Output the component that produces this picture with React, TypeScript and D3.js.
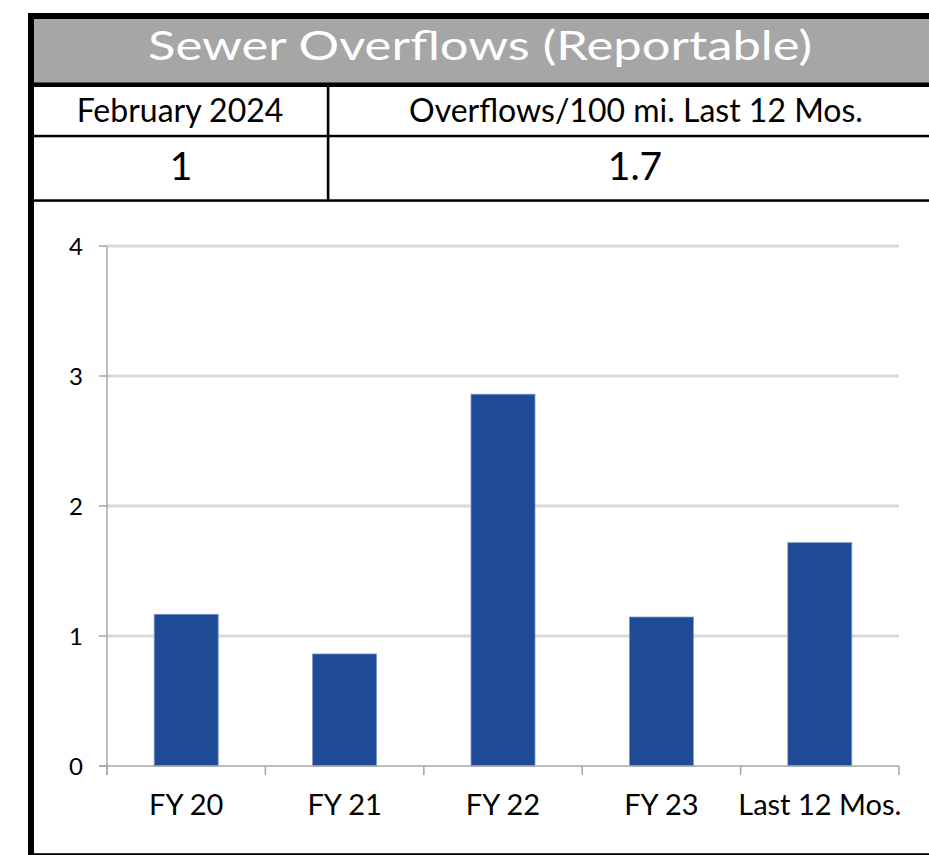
import React from "react";
import * as d3 from "d3";

const categories = ["FY 20", "FY 21", "FY 22", "FY 23", "Last 12 Mos."];
const values = [1.167, 0.862, 2.86, 1.146, 1.718];
const yTicks = [0, 1, 2, 3, 4];
const titleText = "Sewer Overflows (Reportable)";
const headerLabels = ["February 2024", "Overflows/100 mi. Last 12 Mos."];
const headerValues = ["1", "1.7"];

const W = 929;
const H = 855;
const FONT = "Lato, 'Open Sans', sans-serif";

export default function App() {
  const plot = { left: 107, right: 899, top: 246, bottom: 766 };
  const x = d3
    .scaleBand<string>()
    .domain(categories)
    .range([plot.left, plot.right])
    .paddingInner(0.596)
    .paddingOuter(0.298);
  const xOuter = d3.scaleBand<string>().domain(categories).range([plot.left, plot.right]);
  const y = d3.scaleLinear().domain([0, 4]).range([plot.bottom, plot.top]);

  const boundaries = categories.map((c) => xOuter(c) as number).concat([plot.right]);

  return (
    <svg
      width={W}
      height={H}
      style={{ position: "absolute", left: 0, top: 0, background: "#fff" }}
      fontFamily={FONT}
    >
      {/* title bar */}
      <rect x={34} y={19} width={W - 34} height={64} fill="#a6a6a6" />
      <rect x={28} y={13} width={W - 28} height={6} fill="#000" />
      <rect x={28} y={13} width={6} height={842} fill="#000" />
      <rect x={34} y={82.5} width={W - 34} height={4.5} fill="#000" />
      <rect x={34} y={134.8} width={W - 34} height={2.5} fill="#000" />
      <rect x={34} y={199.3} width={W - 34} height={2.5} fill="#000" />
      <rect x={326.8} y={87} width={2.6} height={113} fill="#000" />
      <rect x={34} y={853.2} width={W - 34} height={2} fill="#000" />

      <text
        x={480}
        y={60}
        textAnchor="middle"
        fill="#fff"
        fontSize={40}
        textLength={664}
        lengthAdjust="spacingAndGlyphs"
      >
        {titleText}
      </text>
      <text x={180} y={121.7} textAnchor="middle" fill="#000" fontSize={32}>
        {headerLabels[0]}
      </text>
      <text x={636} y={121.7} textAnchor="middle" fill="#000" fontSize={32}>
        {headerLabels[1]}
      </text>
      <text x={181} y={180} textAnchor="middle" fill="#000" fontSize={39}>
        {headerValues[0]}
      </text>
      <text x={635} y={180} textAnchor="middle" fill="#000" fontSize={39}>
        {headerValues[1]}
      </text>

      {/* gridlines */}
      {yTicks
        .filter((t) => t > 0)
        .map((t) => (
          <line
            key={"g" + t}
            x1={plot.left}
            x2={plot.right}
            y1={y(t)}
            y2={y(t)}
            stroke="#d9d9d9"
            strokeWidth={3}
          />
        ))}

      {/* bars */}
      {categories.map((c, i) => (
        <rect
          key={c}
          x={x(c)}
          y={y(values[i])}
          width={x.bandwidth()}
          height={y(0) - y(values[i])}
          fill="#1f4a96"
          stroke="#7f97cc"
          strokeWidth={0.8}
        />
      ))}

      {/* y axis */}
      <line x1={plot.left} x2={plot.left} y1={plot.top} y2={plot.bottom + 9} stroke="#a6a6a6" strokeWidth={1.5} />
      {yTicks.map((t) => (
        <g key={"yt" + t}>
          <line x1={plot.left - 8} x2={plot.left} y1={y(t)} y2={y(t)} stroke="#a6a6a6" strokeWidth={1.5} />
          <text x={83} y={y(t) + 8.5} textAnchor="end" fontSize={24} fill="#000">
            {t}
          </text>
        </g>
      ))}

      {/* x axis */}
      <line x1={plot.left - 8} x2={plot.right} y1={plot.bottom} y2={plot.bottom} stroke="#a6a6a6" strokeWidth={1.5} />
      {boundaries.map((b, i) => (
        <line key={"xt" + i} x1={b} x2={b} y1={plot.bottom} y2={plot.bottom + 9} stroke="#a6a6a6" strokeWidth={1.5} />
      ))}
      {categories.map((c) => (
        <text
          key={"xl" + c}
          x={(xOuter(c) as number) + xOuter.bandwidth() / 2}
          y={815}
          textAnchor="middle"
          fontSize={29}
          fill="#000"
        >
          {c}
        </text>
      ))}
    </svg>
  );
}
